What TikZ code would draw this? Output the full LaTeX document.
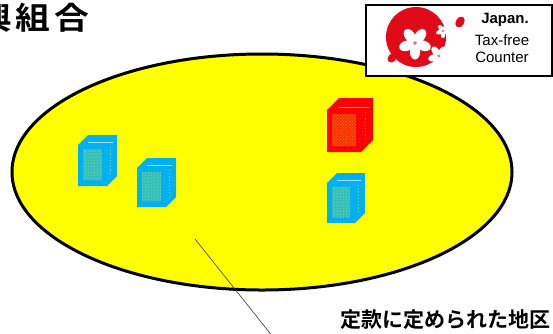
\documentclass[tikz,border=0pt]{standalone}
\usepackage{fontspec}
\setmainfont{Liberation Sans}
\newfontfamily\jpfont[BoldFont={Noto Sans CJK JP Bold}]{Noto Sans CJK JP}
\usetikzlibrary{shapes.geometric,patterns,positioning,calc}

\definecolor{shopblue}{RGB}{0,176,240}
\definecolor{shopred}{RGB}{255,0,0}
\definecolor{areayellow}{RGB}{255,255,0}
\definecolor{logored}{RGB}{225,10,25}

\tikzstyle{area} = [ellipse, draw=black, line width=3pt, fill=areayellow]
\tikzstyle{logotxt} = [inner sep=0pt, font=\fontsize{15}{15}\selectfont]
\tikzstyle{jptxt} = [inner sep=0pt]

% shop building: x, y (top left), front width, front height, depth, colour
\newcommand{\shop}[6]{%
	\fill[#6] (#1,#2+#5) -- ++(#5,-#5) -- ++(#3,0) -- ++(0,#4) -- ++(-#5,#5) -- ++(-#3,0) -- cycle;
	\fill[#6!82!yellow] (#1+5,#2+#5+4) rectangle (#1+#3-5,#2+#5+#4-6);
	\fill[pattern=crosshatch dots, pattern color=#6!45!yellow] (#1+5,#2+#5+4) rectangle (#1+#3-5,#2+#5+#4-6);
	\draw[#6!35!white, line width=1pt] (#1+#5,#2+0.75*#5) -- (#1+#3+#5-4,#2+0.75*#5);
	\draw[#6!50!yellow, line width=1.2pt, dotted] (#1+#3+0.35*#5,#2+#5+2) -- (#1+#3+0.35*#5,#2+#4-1);
}

% cherry blossom: x, y, radius
\newcommand{\blossom}[3]{%
	\foreach \a in {0,72,...,288}
		\fill[white, shift={(#1,#2)}, rotate=\a] (0,0.55*#3) ellipse (0.32*#3 and 0.48*#3);
	\fill[logored!60!white] (#1,#2) circle (0.12*#3);
}

\begin{document}
\begin{tikzpicture}[x=1pt,y=-1pt]
	\useasboundingbox (0,0) rectangle (553,333);
	\clip (0,0) rectangle (553,333);

	\node[jptxt, anchor=east, xscale=1.12, transform shape, font=\jpfont\bfseries\fontsize{31}{31}\selectfont] (title) at (89,18) {興\kern3pt 組\kern3pt 合};

	% district
	\node[area, minimum width=500pt, minimum height=236pt] (district) at (262,172) {};

	\shop{78}{135}{29}{41}{10}{shopblue}
	\shop{137}{158}{29}{39}{10}{shopblue}
	\shop{327}{98}{34}{42}{12}{shopred}
	\shop{327}{173}{28}{40}{10}{shopblue}

	% tax-free logo
	\node[draw=black, line width=1.5pt, fill=white, minimum width=186pt, minimum height=71pt,
		anchor=north west, inner sep=0pt] (logo) at (365,4) {};
	\fill[logored] (416,37) circle (30);
	\fill[logored, rotate around={-30:(460,22)}] (460,22) ellipse (4 and 6);
	\fill[logored, rotate around={20:(390,44)}] (390,44) ellipse (3 and 5);
	\fill[logored, rotate around={-40:(392,58)}] (392,58) ellipse (4 and 5);
	\blossom{415}{43}{16}
	\blossom{439}{56}{11}
	\blossom{443}{31}{7}
	\node[logotxt, font=\bfseries\fontsize{15}{15}\selectfont] (japan) at (505,20) {Japan.};
	\node[logotxt] (taxfree) at (502,40) {Tax-free};
	\node[logotxt] (counter) at (502,57) {Counter};

	% callout
	\coordinate (tip) at (195,239);
	\coordinate (tail) at (273,337);
	\draw[line width=0.6pt, black!80] (tip) -- (tail);
	\node[jptxt, anchor=west, font=\jpfont\bfseries\fontsize{21}{21}\selectfont] (areaname) at (340,320) {定款に定められた地区};
\end{tikzpicture}
\end{document}
